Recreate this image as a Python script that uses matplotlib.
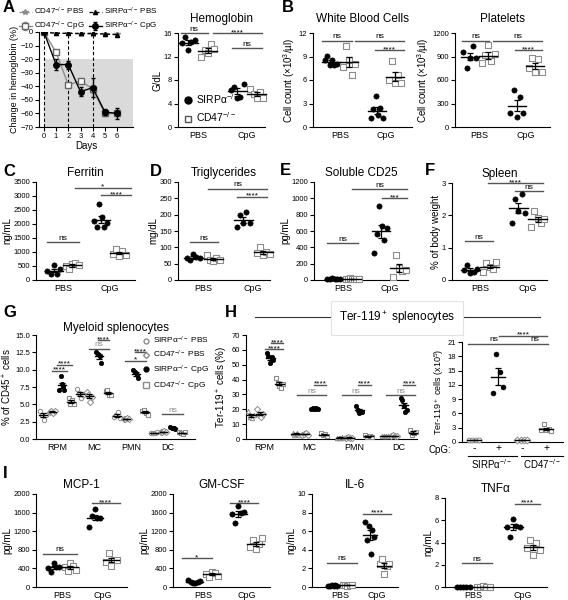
import numpy as np
import matplotlib
matplotlib.use("Agg")
import matplotlib.pyplot as plt
from matplotlib.lines import Line2D

# ---------------- data ----------------
# A: hemoglobin time course (% change)
days = [0, 1, 2, 3, 4, 5, 6]
injection_days = [0, 2, 4]
hb_cd47_pbs = [0, -1, -1, -1.5, -1.5, -1.5, -1.5]
hb_sirp_pbs = [0, -1, -1, -1, -1, -1.5, -2]
hb_cd47_cpg = [0, -15, -39, -36, -42, -60, -60]
hb_cd47_cpg_err = [0, 1.5, 2, 1.5, 3, 2, 2]
hb_sirp_cpg = [0, -24, -24, -44, -41, -59, -60]
hb_sirp_cpg_err = [0, 4, 3, 3.5, 7, 2, 4]

groups = ["PBS", "CpG"]

hgb_sirp_pbs = [14.3, 15.3, 13.1, 14.4, 14.8]
hgb_cd47_pbs = [12.0, 13.1, 12.6, 14.1, 13.3]
hgb_sirp_cpg = [6.3, 6.8, 5.0, 5.1, 7.3]
hgb_cd47_cpg = [6.4, 5.7, 4.9, 6.0, 5.0]

wbc_sirp_pbs = [8.5, 9.1, 7.9, 8.6, 7.9, 8.0]
wbc_cd47_pbs = [7.7, 10.3, 8.6, 6.7, 8.1]
wbc_sirp_cpg = [1.2, 2.3, 3.9, 1.5, 2.4, 1.1]
wbc_cd47_cpg = [6.0, 8.4, 5.6, 6.6, 5.6]

plt_sirp_pbs = [952, 752, 880, 1029, 880]
plt_cd47_pbs = [816, 922, 1050, 837, 930]
plt_sirp_cpg = [184, 474, 132, 389, 175]
plt_cd47_cpg = [752, 880, 696, 867, 696]

fer_sirp_pbs = [321, 202, 535, 214, 381]
fer_cd47_pbs = [500, 381, 571, 619, 535]
fer_sirp_cpg = [2119, 1904, 2714, 2250, 1880, 2048]
fer_cd47_cpg = [928, 1095, 857, 1040, 892]

tg_sirp_pbs = [66, 61, 80, 71, 66]
tg_cd47_pbs = [76, 61, 59, 66, 60]
tg_sirp_cpg = [163, 199, 173, 209, 175]
tg_cd47_cpg = [82, 102, 77, 87, 79]

cd25_sirp_pbs = [15, 10, 20, 12, 18, 8]
cd25_cd47_pbs = [18, 15, 20, 12, 16, 14, 10]
cd25_sirp_cpg = [330, 564, 907, 665, 484, 640]
cd25_cd47_cpg = [32, 310, 153, 109, 121]

spl_sirp_pbs = [0.31, 0.47, 0.21, 0.26, 0.35]
spl_cd47_pbs = [0.26, 0.52, 0.40, 0.33, 0.57]
spl_sirp_cpg = [1.77, 2.5, 2.14, 2.65, 2.08]
spl_cd47_cpg = [1.65, 2.14, 1.93, 1.77, 1.88]

mcp_sirp_pbs = [412, 325, 520, 430, 440]
mcp_cd47_pbs = [430, 350, 520, 450, 360]
mcp_sirp_cpg = [1300, 1530, 1675, 1480, 1480]
mcp_cd47_cpg = [541, 722, 448, 578, 578]

gm_sirp_pbs = [159, 108, 87, 94, 108, 120]
gm_cd47_pbs = [289, 217, 325, 303, 230]
gm_sirp_cpg = [1567, 1372, 1733, 1588, 1603]
gm_cd47_cpg = [852, 1011, 809, 924, 1047]

il6_sirp_pbs = [0.15, 0.1, 0.2, 0.12, 0.18, 0.1]
il6_cd47_pbs = [0.2, 0.25, 0.15, 0.22, 0.18]
il6_sirp_cpg = [7.0, 5.1, 6.6, 3.5, 6.1, 5.4]
il6_cd47_cpg = [2.45, 2.96, 1.4, 2.24, 2.5]

tnf_sirp_pbs = [0.03, 0.02, 0.03, 0.02, 0.03]
tnf_cd47_pbs = [0.04, 0.03, 0.05, 0.03, 0.04]
tnf_sirp_cpg = [5.39, 4.49, 6.14, 5.45, 5.35]
tnf_cd47_cpg = [3.53, 4.19, 2.84, 3.95, 3.29]

# G / H: cell types
cell_types = ["RPM", "MC", "PMN", "DC"]
mye_sirp_pbs = [[4.1, 3.5, 2.8, 3.4], [7.2, 6.6, 5.9, 6.4], [3.2, 3.4, 3.9, 3.0], [0.9, 0.9, 0.85, 0.95]]
mye_cd47_pbs = [[3.9, 4.0, 3.8, 4.0], [6.8, 6.4, 5.4, 6.1], [2.9, 2.9, 3.0, 2.9], [1.0, 1.05, 1.1, 1.0]]
mye_sirp_cpg = [[7.1, 9.1, 7.9, 7.6, 7.1], [12.6, 12.3, 11.9, 10.9], [10.0, 9.6, 9.2, 8.8], [1.7, 1.55, 1.6, 1.65, 1.5]]
mye_cd47_cpg = [[5.9, 5.1, 5.6, 5.0], [6.9, 7.0, 6.4, 6.3], [4.1, 4.2, 3.8, 3.5], [1.0, 0.8, 0.75, 0.95]]

ter_sirp_pbs = [[19, 15, 14, 16], [4, 3, 3.5, 4, 3], [1, 0.8, 1, 1.2, 0.9], [2, 2.2, 1.8, 2]]
ter_cd47_pbs = [[20, 16, 15, 17], [3, 3.5, 4, 3], [1, 1.2, 1, 0.8], [2, 2.5, 2.2, 1.8]]
ter_sirp_cpg = [[58, 56, 51, 55, 53], [20.5, 21, 20, 20.5, 21, 20], [22.5, 19.5, 17.5, 18, 18.5], [27.4, 26.2, 22.2, 18.4, 19.5]]
ter_cd47_cpg = [[41, 38, 36, 34, 37], [4, 2.5, 3.5, 2], [2.5, 1.5, 2, 1.2], [6, 2.7, 3.8, 4.9]]

ter_count_labels = ["-", "+", "-", "+"]
ter_count_sirp_pbs = [0.4, 0.4, 0.4, 0.4]
ter_count_sirp_cpg = [10.2, 18.4, 14.8, 11.5]
ter_count_cd47_pbs = [0.4, 0.4, 0.4, 0.4]
ter_count_cd47_cpg = [2.6, 3.7, 2.5, 2.7, 2.3]

# ---------------- style ----------------
plt.rcParams["font.family"] = ["Liberation Sans", "DejaVu Sans"]
plt.rcParams["mathtext.fontset"] = "custom"
plt.rcParams["mathtext.rm"] = "Liberation Sans"
plt.rcParams["mathtext.it"] = "Liberation Sans:italic"
plt.rcParams["mathtext.default"] = "regular"
plt.rcParams["axes.linewidth"] = 0.8

W, H = 568, 600
GRAY = "#8c8c8c"
SIRP = dict(marker="o", facecolor="black", edgecolor="black", linewidths=0.5)
CD47 = dict(marker="s", facecolor="white", edgecolor=GRAY, linewidths=0.8)
SIRP_PBS = dict(marker="o", facecolor="white", edgecolor=GRAY, linewidths=0.7)
CD47_PBS = dict(marker="D", facecolor="white", edgecolor=GRAY, linewidths=0.7)
SIRP_PBS_H = dict(marker="^", facecolor="white", edgecolor=GRAY, linewidths=0.7)
SIRP_L = "SIRPα$^{-/-}$"
CD47_L = "CD47$^{-/-}$"

fig = plt.figure(figsize=(W / 100, H / 100), dpi=100)


def add_ax(l, r, t, b):
    ax = fig.add_axes([l / W, 1 - b / H, (r - l) / W, (b - t) / H])
    ax.spines["top"].set_visible(False)
    ax.spines["right"].set_visible(False)
    ax.tick_params(direction="out", length=3, width=0.8, labelsize=5.5, pad=1.2)
    return ax


def dots(ax, x, vals, st, s=14, spread=0.13, half=0.19):
    vals = np.asarray(vals, dtype=float)
    n = len(vals)
    offs = np.linspace(-spread, spread, n)
    ax.scatter(x + offs, vals, s=s, zorder=3, clip_on=False, **st)
    m = vals.mean()
    se = vals.std(ddof=1) / np.sqrt(n)
    ax.plot([x - half, x + half], [m, m], color="k", lw=1, zorder=4, clip_on=False)
    ax.errorbar(x, m, yerr=se, color="k", lw=0.9, capsize=2, capthick=0.9, zorder=4)


def sig(ax, x1, x2, y, txt, color="k", lc="#555555", fs=6):
    ax.plot([x1, x2], [y, y], color=lc, lw=1, clip_on=False)
    off = -2.2 if "*" in txt else 0.3
    ax.annotate(txt, ((x1 + x2) / 2, y), xytext=(0, off), textcoords="offset points",
                ha="center", va="bottom", fontsize=fs, color=color, annotation_clip=False)


def two_group(box, px, vals, yticks, ylabel, title, sigs, tpad=4):
    l, r, t, b = box
    pbs, cpg = px
    u = cpg - pbs
    ax = add_ax(l, r, t, b)
    for x, v, st in zip([-0.2, 0.2, 0.8, 1.2], vals, [SIRP, CD47, SIRP, CD47]):
        dots(ax, x, v, st)
    ax.set_xlim((l - pbs) / u, (r - pbs) / u)
    ax.set_ylim(yticks[0], yticks[-1])
    ax.set_yticks(yticks)
    ax.set_xticks([0, 1])
    ax.set_xticklabels(groups, fontsize=6.5)
    ax.tick_params(axis="x", length=0, pad=3)
    ax.set_ylabel(ylabel, fontsize=7, labelpad=1)
    ax.set_title(title, fontsize=8.5, pad=tpad)
    for s_ in sigs:
        sig(ax, *s_)
    return ax


def letter(x, y, t):
    fig.text(x / W, 1 - y / H, t, fontsize=12, fontweight="bold", va="center", ha="left")


# ---------------- A ----------------
axA = add_ax(39, 133, 32, 127)
axA.fill_between([days[0], 7.3], -70, -20, color="#dadada", lw=0, zorder=0)
for d in injection_days:
    axA.plot([d, d], [-70, 0], color="k", ls=(0, (3, 2)), lw=0.8, zorder=1)
hA1 = axA.errorbar(days, hb_cd47_pbs, color=GRAY, ls=(0, (3, 2)), marker="*", ms=4, lw=0.9, zorder=2)
hA2 = axA.errorbar(days, hb_cd47_cpg, yerr=hb_cd47_cpg_err, color=GRAY, marker="s", ms=4,
                   mfc="white", mec="#666666", lw=1.0, capsize=1.5, zorder=3)
hA3 = axA.errorbar(days, hb_sirp_pbs, color="k", ls=(0, (3, 2)), marker="^", ms=3, lw=0.9, zorder=2)
hA4 = axA.errorbar(days, hb_sirp_cpg, yerr=hb_sirp_cpg_err, color="k", marker="o", ms=4,
                   lw=1.0, capsize=1.5, zorder=4)
axA.set_xlim(-0.4, 7.3)
axA.set_ylim(-70, 0)
axA.set_yticks(range(0, -80, -10))
axA.set_xticks(days)
axA.set_ylabel("Change in hemoglobin (%)", fontsize=6.5, labelpad=1)
axA.set_xlabel("Days", fontsize=7, labelpad=1)
fig.legend([hA1, hA2, hA3, hA4],
           [CD47_L + " PBS", CD47_L + " CpG", SIRP_L + " PBS", SIRP_L + " CpG"],
           ncol=2, loc="upper left", bbox_to_anchor=(14 / W, 1 - 1 / H), frameon=False,
           fontsize=5.8, handlelength=1.6, columnspacing=0.5, handletextpad=0.3,
           labelspacing=0.3, borderpad=0.1)

# ---------------- Hemoglobin ----------------
axHb = two_group((178, 265, 33, 127), (198, 247),
                 [hgb_sirp_pbs, hgb_cd47_pbs, hgb_sirp_cpg, hgb_cd47_cpg],
                 [0, 4, 8, 12, 16], "G/dL", "Hemoglobin",
                 [(-0.35, 0.2, 16, "ns"), (0.3, 1.3, 16, "****"), (0.7, 1.3, 13.4, "ns")], tpad=8)
hs = [Line2D([], [], ls="", marker="o", color="k", ms=5),
      Line2D([], [], ls="", marker="s", mfc="white", mec="#555555", ms=5)]
axHb.legend(hs, [SIRP_L, CD47_L], loc="lower left", bbox_to_anchor=(-0.03, -0.05),
            frameon=False, fontsize=7.5, handletextpad=0.3, labelspacing=0.45,
            handlelength=1.0, borderpad=0.2)

# ---------------- B ----------------
two_group((313, 412, 33, 127), (340, 386),
          [wbc_sirp_pbs, wbc_cd47_pbs, wbc_sirp_cpg, wbc_cd47_cpg],
          [0, 3, 6, 9, 12], "Cell count (×10$^3$/µl)", "White Blood Cells",
          [(-0.4, 0.25, 11, "ns"), (0.32, 1.4, 11, "ns"), (0.75, 1.4, 9.8, "****")], tpad=8)
two_group((455, 550, 33, 127), (479, 526),
          [plt_sirp_pbs, plt_cd47_pbs, plt_sirp_cpg, plt_cd47_cpg],
          [0, 300, 600, 900, 1200], "Cell count (×10$^3$/µl)", "Platelets",
          [(-0.36, 0.22, 1100, "ns"), (0.3, 1.34, 1100, "ns"), (0.77, 1.34, 985, "****")], tpad=8)

# ---------------- C-F ----------------
two_group((36, 135, 182, 280), (63, 110),
          [fer_sirp_pbs, fer_cd47_pbs, fer_sirp_cpg, fer_cd47_cpg],
          list(range(0, 4000, 500)), "ng/mL", "Ferritin",
          [(-0.35, 0.35, 1350, "ns"), (0.25, 1.45, 3300, "*"), (0.8, 1.45, 3030, "****")])
two_group((178, 270, 182, 280), (203, 253),
          [tg_sirp_pbs, tg_cd47_pbs, tg_sirp_cpg, tg_cd47_cpg],
          list(range(0, 350, 50)), "mg/dL", "Triglycerides",
          [(-0.26, 0.3, 115, "ns"), (0.1, 1.28, 280, "ns"), (0.68, 1.28, 255, "****")])
two_group((314, 408, 182, 280), (343, 390),
          [cd25_sirp_pbs, cd25_cd47_pbs, cd25_sirp_cpg, cd25_cd47_cpg],
          list(range(0, 1400, 200)), "pg/mL", "Soluble CD25",
          [(-0.34, 0.32, 450, "ns"), (0.19, 1.36, 1110, "ns"), (0.83, 1.36, 1005, "***")])
two_group((452, 547, 183, 280), (480, 528),
          [spl_sirp_pbs, spl_cd47_pbs, spl_sirp_cpg, spl_cd47_cpg],
          [0, 1, 2, 3], "% of body weight", "Spleen",
          [(-0.31, 0.27, 1.2, "ns"), (0.17, 1.31, 3.0, "****"), (0.73, 1.31, 2.75, "ns")])

# ---------------- G ----------------
axG = add_ax(36, 195, 335, 439)
offG = [-0.38, -0.13, 0.13, 0.38]
for i in range(len(cell_types)):
    for o, v, st in zip(offG, [mye_sirp_pbs[i], mye_cd47_pbs[i], mye_sirp_cpg[i], mye_cd47_cpg[i]],
                        [SIRP_PBS, CD47_PBS, SIRP, CD47]):
        dots(axG, i + o, v, st, s=10, spread=0.07, half=0.1)
axG.set_xlim(-0.57, 3.73)
axG.set_ylim(0, 15)
axG.set_yticks(np.arange(0, 15.1, 2.5))
axG.set_yticklabels(["%.1f" % v for v in np.arange(0, 15.1, 2.5)])
axG.set_xticks(range(4))
axG.set_xticklabels(cell_types, fontsize=6.5)
axG.tick_params(axis="x", length=0, pad=3)
axG.set_ylabel("% of CD45$^+$ cells", fontsize=7, labelpad=1)
axG.set_title("Myeloid splenocytes", fontsize=8.5, pad=3)
sig(axG, 0.0, 0.4, 10.7, "****")
sig(axG, -0.15, 0.27, 9.85, "****")
sig(axG, 0.85, 1.4, 13.0, "ns", color=GRAY)
sig(axG, 1.12, 1.4, 14.3, "****")
sig(axG, 1.85, 2.4, 11.3, "*")
sig(axG, 2.12, 2.4, 12.5, "****")
sig(axG, 2.85, 3.4, 3.6, "ns", color=GRAY)
gh = [Line2D([], [], ls="", marker="o", mfc="white", mec=GRAY, ms=3.5),
      Line2D([], [], ls="", marker="D", mfc="white", mec=GRAY, ms=3),
      Line2D([], [], ls="", marker="o", color="k", ms=3.5),
      Line2D([], [], ls="", marker="s", mfc="white", mec=GRAY, ms=4)]
axG.legend(gh, [SIRP_L + " PBS", CD47_L + " PBS", SIRP_L + " CpG", CD47_L + " CpG"],
           loc="upper right", bbox_to_anchor=(1.12, 1.05), frameon=False, fontsize=6,
           handletextpad=0.2, labelspacing=0.35, handlelength=1.2, borderpad=0.1)

# ---------------- H ----------------
axH = add_ax(246, 417, 335, 439)
offH = [-0.3, -0.1, 0.12, 0.33]
for i in range(len(cell_types)):
    for o, v, st in zip(offH, [ter_sirp_pbs[i], ter_cd47_pbs[i], ter_sirp_cpg[i], ter_cd47_cpg[i]],
                        [SIRP_PBS_H, CD47_PBS, SIRP, CD47]):
        dots(axH, i + o, v, st, s=10, spread=0.07, half=0.1)
axH.set_xlim(-0.42, 3.42)
axH.set_ylim(0, 70)
axH.set_yticks(range(0, 80, 10))
axH.set_xticks(range(4))
axH.set_xticklabels(cell_types, fontsize=6.5)
axH.tick_params(axis="x", length=0, pad=3)
axH.set_ylabel("Ter-119$^+$ cells (%)", fontsize=7, labelpad=1)
sig(axH, 0.0, 0.42, 60.6, "****")
sig(axH, 0.15, 0.42, 64.5, "****")
for c in range(1, 4):
    sig(axH, c - 0.27, c + 0.38, 29.5, "ns", color=GRAY)
    sig(axH, c + 0.1, c + 0.38, 36.5, "****")

axT = add_ax(462, 563, 342, 442)
for x, v, st in zip(range(4), [ter_count_sirp_pbs, ter_count_sirp_cpg, ter_count_cd47_pbs, ter_count_cd47_cpg],
                    [SIRP_PBS, SIRP, CD47_PBS, CD47]):
    dots(axT, x, v, st, s=12, spread=0.2, half=0.3)
axT.set_xlim(-0.5, 3.7)
axT.set_ylim(0, 21)
axT.set_yticks(range(0, 22, 3))
axT.set_xticks(range(4))
axT.set_xticklabels(ter_count_labels, fontsize=7.5)
axT.tick_params(axis="x", length=0, pad=1)
axT.set_ylabel("Ter-119$^+$ cells (x10$^5$)", fontsize=6.5, labelpad=1)
sig(axT, -0.26, 1.93, 20.6, "ns")
sig(axT, 1.96, 3.07, 20.6, "ns")
sig(axT, 1.04, 3.04, 22.3, "****")
fig.text(440 / W, 1 - 450 / H, "CpG:", fontsize=7, ha="center", va="center")
fig.add_artist(Line2D([468 / W, 517 / W], [1 - 456 / H] * 2, color="k", lw=0.8))
fig.add_artist(Line2D([521 / W, 563 / W], [1 - 456 / H] * 2, color="k", lw=0.8))
fig.text(492 / W, 1 - 464 / H, SIRP_L, fontsize=7, ha="center", va="center")
fig.text(542 / W, 1 - 464 / H, CD47_L, fontsize=7, ha="center", va="center")

fig.add_artist(Line2D([255 / W, 540 / W], [1 - 317 / H] * 2, color="#333333", lw=0.8, zorder=1))
fig.text(397 / W, 1 - 318 / H, "Ter-119$^+$ splenocytes", fontsize=8.5, ha="center", va="center",
         zorder=5, bbox=dict(boxstyle="square,pad=0.7", fc="white", ec="#e2e2e2", lw=0.8))

# ---------------- I ----------------
two_group((36, 127, 494, 587), (62, 103),
          [mcp_sirp_pbs, mcp_cd47_pbs, mcp_sirp_cpg, mcp_cd47_cpg],
          list(range(0, 2400, 400)), "pg/mL", "MCP-1",
          [(-0.46, 0.37, 720, "ns"), (0.73, 1.41, 1806, "****")])
two_group((173, 270, 494, 587), (203, 247),
          [gm_sirp_pbs, gm_cd47_pbs, gm_sirp_cpg, gm_cd47_cpg],
          list(range(0, 2400, 400)), "pg/mL", "GM-CSF",
          [(-0.48, 0.2, 624, "*"), (0.61, 1.25, 1806, "****")])
two_group((312, 398, 494, 587), (340, 377),
          [il6_sirp_pbs, il6_cd47_pbs, il6_sirp_cpg, il6_cd47_cpg],
          list(range(0, 12, 2)), "ng/mL", "IL-6",
          [(-0.35, 0.45, 2.6, "ns"), (0.62, 1.38, 7.9, "****")])
two_group((445, 547, 498, 587), (473, 523),
          [tnf_sirp_pbs, tnf_cd47_pbs, tnf_sirp_cpg, tnf_cd47_cpg],
          list(range(0, 10, 2)), "ng/mL", "TNFα",
          [(-0.22, 0.38, 2.15, "ns"), (0.84, 1.34, 7.5, "****")])

for t, x, y in [("A", 3, 7), ("B", 282, 7), ("C", 3, 172), ("D", 150, 172), ("E", 280, 171),
                ("F", 425, 171), ("G", 3, 313), ("H", 225, 313), ("I", 3, 473)]:
    letter(x, y, t)

fig.savefig("out.png", dpi=100)
